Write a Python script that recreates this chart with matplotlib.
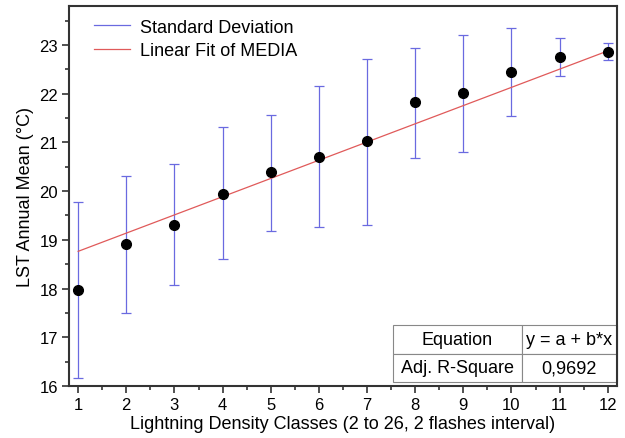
import matplotlib.pyplot as plt
import numpy as np
from matplotlib.lines import Line2D

plt.rcParams['font.family'] = ['Liberation Sans', 'DejaVu Sans']

# data
classes = np.arange(1, 13)
lst_mean = [17.98, 18.92, 19.31, 19.95, 20.40, 20.71, 21.02, 21.82, 22.01, 22.44, 22.75, 22.85]
sd_upper = [19.77, 20.32, 20.55, 21.31, 21.57, 22.15, 22.71, 22.93, 23.20, 23.35, 23.14, 23.04]
sd_lower = [16.16, 17.50, 18.08, 18.61, 19.19, 19.27, 19.31, 20.69, 20.80, 21.55, 22.36, 22.69]
fit_a = 18.39
fit_b = 0.374
table_rows = [['Equation', 'y = a + b*x'], ['Adj. R-Square', '0,9692']]

mean = np.array(lst_mean)
err = [mean - np.array(sd_lower), np.array(sd_upper) - mean]

fig = plt.figure(figsize=(6.25, 4.39), dpi=100)
ax = fig.add_axes([0.1104, 0.1185, 0.8766, 0.8655])

ax.errorbar(classes, mean, yerr=err, fmt='none', ecolor='#6a6ae0', elinewidth=0.9,
            capsize=3.5, capthick=0.9, zorder=2)
xf = np.array([1, 12])
ax.plot(xf, fit_a + fit_b * xf, color='#e05a5a', lw=0.9, zorder=3)
ax.plot(classes, mean, 'o', color='black', ms=7, zorder=4)

ax.set_xlim(0.81, 12.19)
ax.set_ylim(16, 23.8)
ax.set_xticks(range(1, 13))
ax.set_xticks(np.arange(1.5, 12, 1), minor=True)
ax.set_yticks(range(16, 24))
ax.set_yticks(np.arange(16.5, 23.6, 1), minor=True)
ax.tick_params(which='major', length=5, width=1.2, labelsize=12, color='#333333', pad=3)
ax.tick_params(which='minor', length=3, width=1.2, color='#333333')
for s in ax.spines.values():
    s.set_linewidth(1.5)
    s.set_color('#333333')

ax.set_xlabel('Lightning Density Classes (2 to 26, 2 flashes interval)', fontsize=13, labelpad=2)
ax.set_ylabel('LST Annual Mean (°C)', fontsize=13, labelpad=4)

handles = [Line2D([], [], color='#6a6ae0', lw=0.9), Line2D([], [], color='#e05a5a', lw=0.9)]
ax.legend(handles, ['Standard Deviation', 'Linear Fit of MEDIA'], loc='upper left',
          bbox_to_anchor=(0.025, 0.995), frameon=False, fontsize=13, handlelength=2.0,
          handletextpad=0.55, borderaxespad=0.2, labelspacing=0.35)

tbl = ax.table(cellText=table_rows, cellLoc='center', colWidths=[0.576, 0.424],
               bbox=[0.591, 0.01, 0.409, 0.15])
tbl.auto_set_font_size(False)
tbl.set_fontsize(13)
for cell in tbl.get_celld().values():
    cell.set_edgecolor('#888888')
    cell.set_linewidth(0.8)

fig.savefig('out.png')
